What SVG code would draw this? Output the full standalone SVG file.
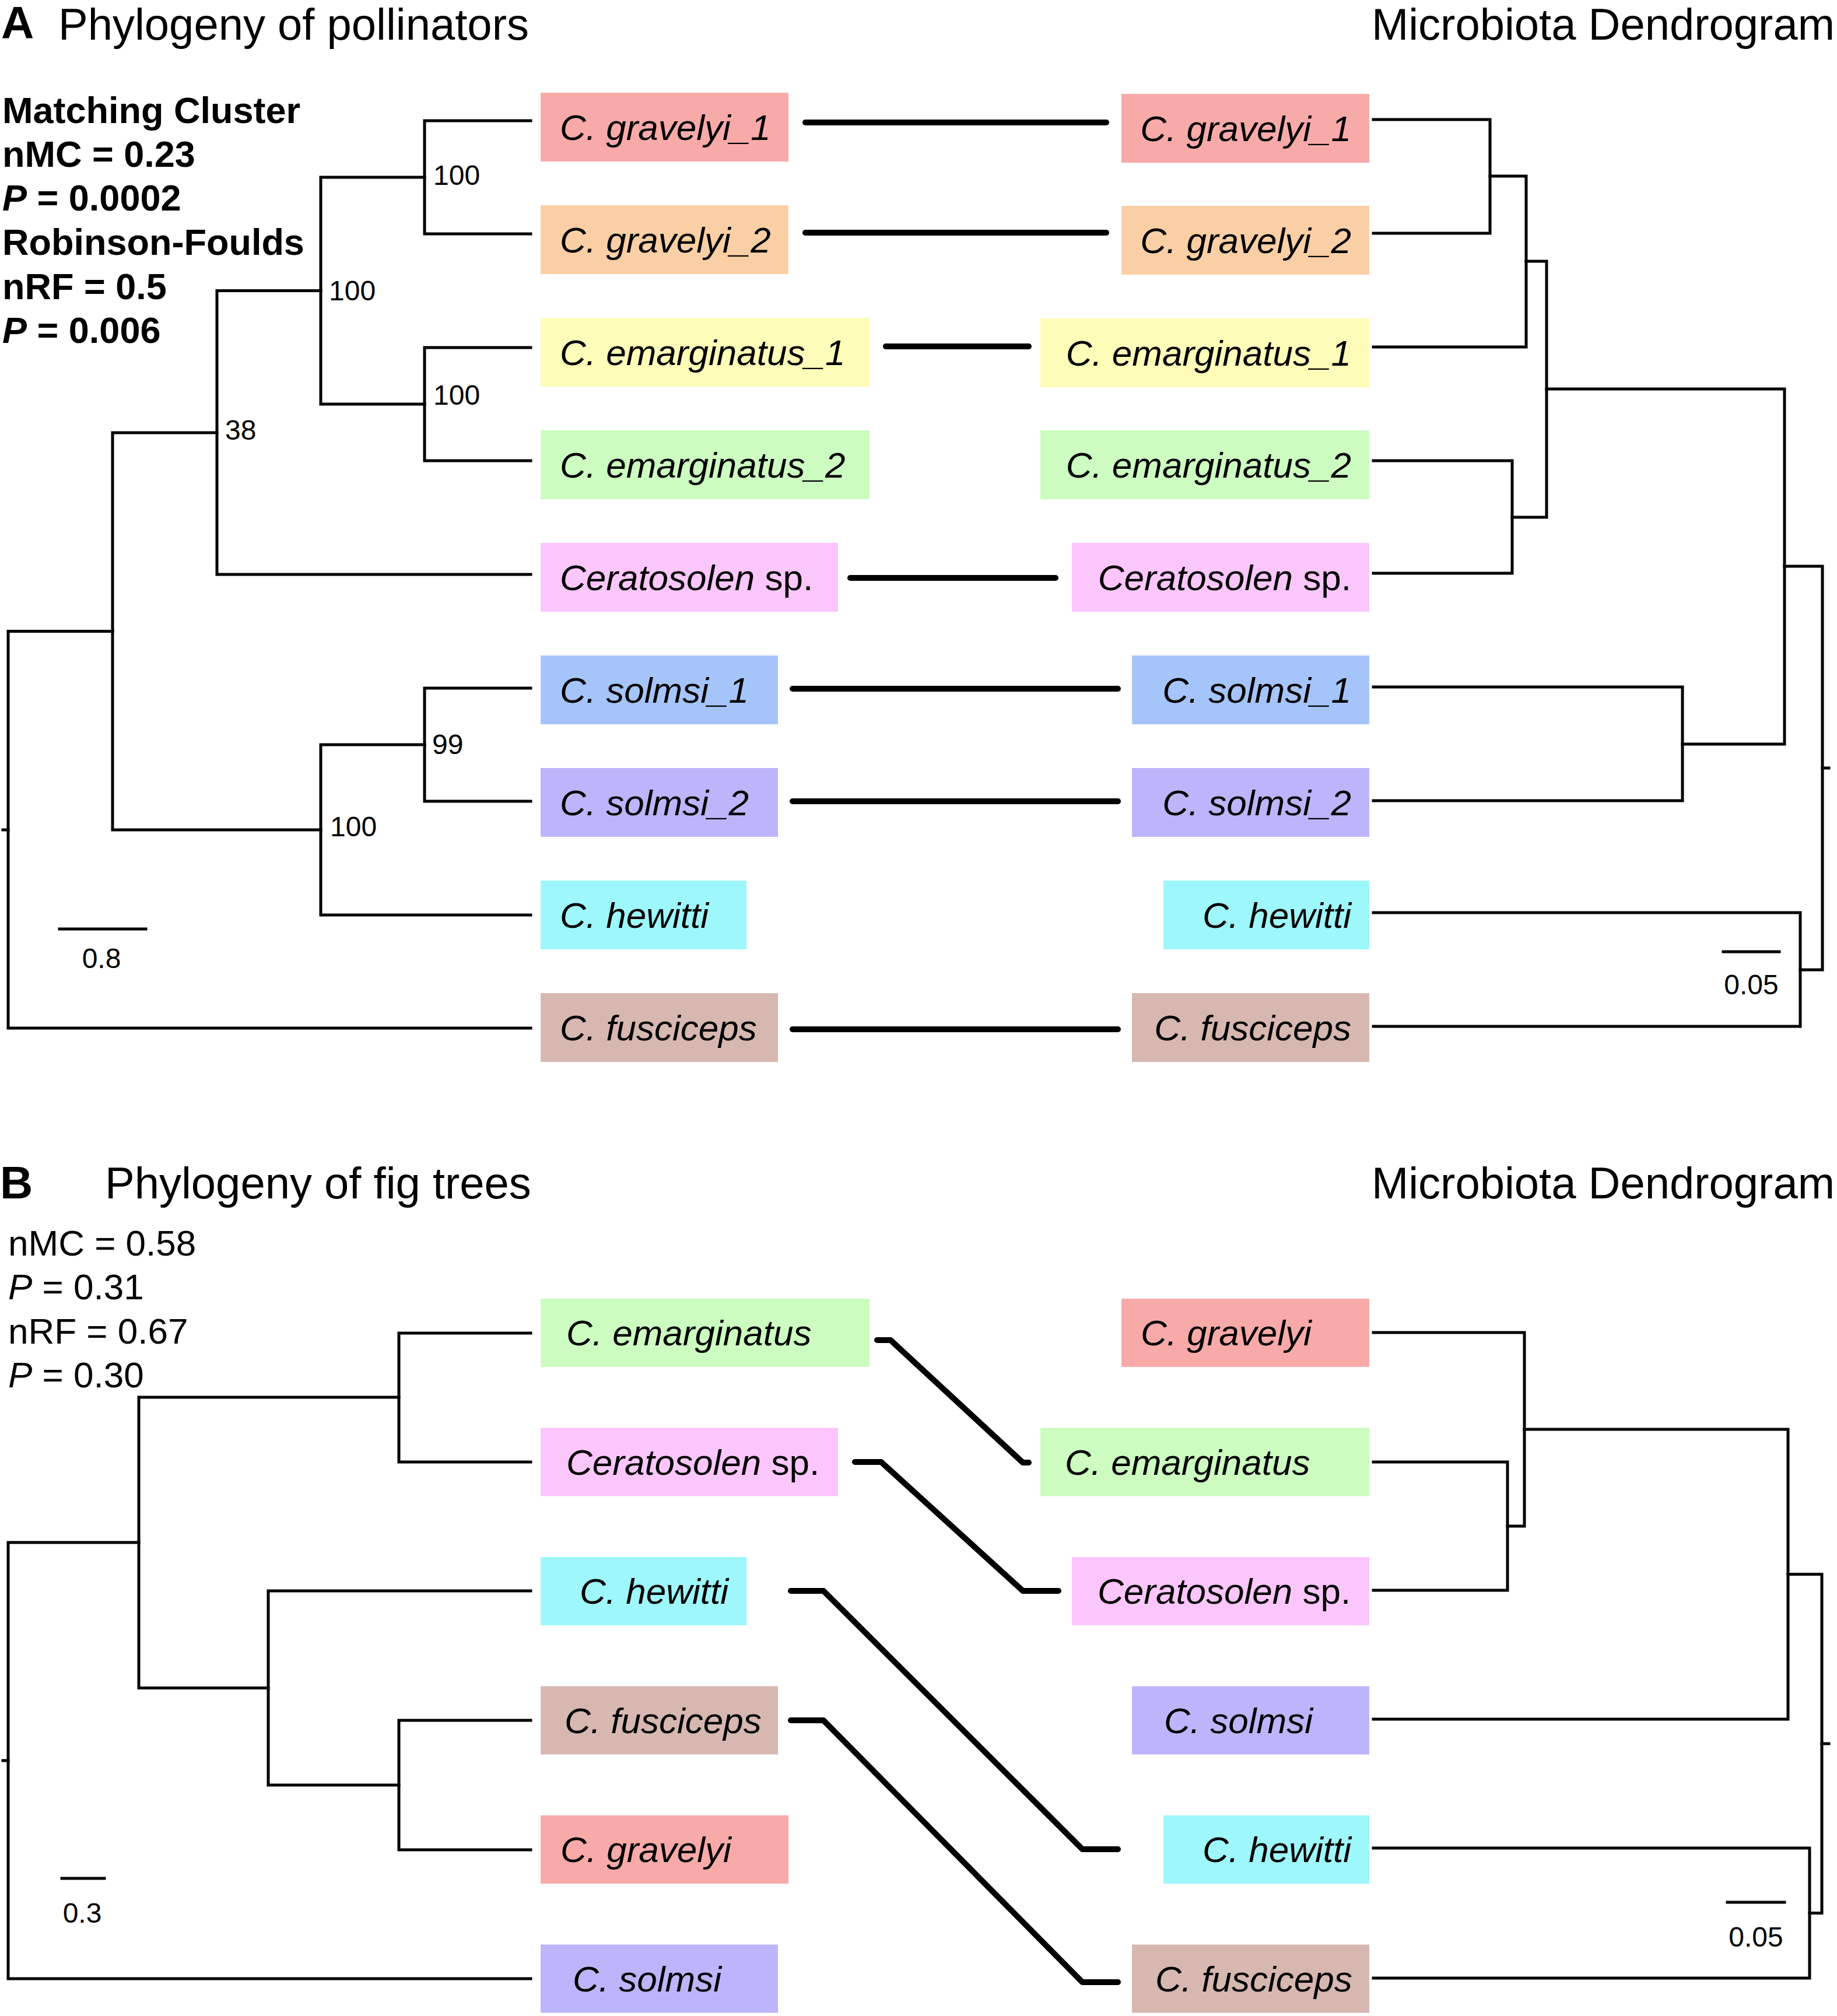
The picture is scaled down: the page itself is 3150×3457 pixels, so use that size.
<svg xmlns="http://www.w3.org/2000/svg" width="3150" height="3457" viewBox="0 0 3150 3457">
<style>
text{font-family:"Liberation Sans",Arial,sans-serif;fill:#000}
.title{font-size:76px}
.panel{font-size:78px;font-weight:bold}
.stat{font-size:62px}
.statb{font-size:63px;font-weight:bold}
.lbl{font-size:62px;font-style:italic}
.num{font-size:48px}
.tree{fill:none;stroke:#000;stroke-width:5;stroke-linecap:square}
.link{fill:none;stroke:#000;stroke-width:10;stroke-linecap:round;stroke-linejoin:round}
.g1{fill:#f8aaa9}.g2{fill:#fbcfa5}.e1{fill:#fdfcb8}.e2{fill:#ccfcc0}.ce{fill:#fbc6fb}
.s1{fill:#a5c5fa}.s2{fill:#bdb5fb}.hw{fill:#9df7fb}.fu{fill:#d7b8b1}
</style>
<rect width="3150" height="3457" fill="#fff"/>

<!-- Panel A headers -->
<g id="panelA-header">
<text class="panel" x="2" y="66">A</text>
<text class="title" x="100" y="68">Phylogeny of pollinators</text>
<text class="title" x="3146" y="68" text-anchor="end">Microbiota Dendrogram</text>
<text class="statb" x="4" y="211">Matching Cluster</text>
<text class="statb" x="4" y="286">nMC = 0.23</text>
<text class="statb" x="4" y="361"><tspan font-style="italic">P</tspan> = 0.0002</text>
<text class="statb" x="4" y="437">Robinson-Foulds</text>
<text class="statb" x="4" y="513">nRF = 0.5</text>
<text class="statb" x="4" y="588"><tspan font-style="italic">P</tspan> = 0.006</text>
</g>

<!-- Panel A left tree -->
<g id="treeA-left" class="tree">
<path d="M910,207H728V401H910"/>
<path d="M910,596H728V790H910"/>
<path d="M728,304H550V693H728"/>
<path d="M550,498.5H372V985H910"/>
<path d="M910,1180H728V1374H910"/>
<path d="M728,1277H550V1569H910"/>
<path d="M372,742H193V1423H550"/>
<path d="M193,1082.5H14V1763H910"/>
<path d="M5,1423H14"/>
<path d="M102,1593H250"/>
</g>
<g id="treeA-left-labels">
<text class="num" x="743" y="317">100</text>
<text class="num" x="564" y="515">100</text>
<text class="num" x="743" y="694">100</text>
<text class="num" x="386" y="754">38</text>
<text class="num" x="741" y="1293">99</text>
<text class="num" x="566" y="1434">100</text>
<text class="num" x="174" y="1660" text-anchor="middle">0.8</text>
</g>

<!-- Panel A right tree -->
<g id="treeA-right" class="tree">
<path d="M2355,205H2555V400H2355"/>
<path d="M2555,302H2617V595H2355"/>
<path d="M2355,790H2593V983H2355"/>
<path d="M2617,448H2652V887H2593"/>
<path d="M2355,1178H2885V1373H2355"/>
<path d="M2652,667H3060V1276H2885"/>
<path d="M2355,1565H3087V1760H2355"/>
<path d="M3060,971H3125V1663H3087"/>
<path d="M3125,1317H3136"/>
<path d="M2955,1632H3051"/>
</g>
<text class="num" x="3003" y="1705" text-anchor="middle">0.05</text>

<!-- Panel A left labels -->
<g id="A-L-gravelyi_1"><rect class="g1" x="927" y="159" width="425" height="118"/><text class="lbl" x="960" y="240">C. gravelyi_1</text></g>
<g id="A-L-gravelyi_2"><rect class="g2" x="927" y="352" width="425" height="118"/><text class="lbl" x="960" y="433">C. gravelyi_2</text></g>
<g id="A-L-emarginatus_1"><rect class="e1" x="927" y="545" width="564" height="118"/><text class="lbl" x="960" y="626">C. emarginatus_1</text></g>
<g id="A-L-emarginatus_2"><rect class="e2" x="927" y="738" width="564" height="118"/><text class="lbl" x="960" y="819">C. emarginatus_2</text></g>
<g id="A-L-ceratosolen"><rect class="ce" x="927" y="931" width="510" height="118"/><text class="lbl" x="960" y="1012">Ceratosolen<tspan font-style="normal"> sp.</tspan></text></g>
<g id="A-L-solmsi_1"><rect class="s1" x="927" y="1124" width="407" height="118"/><text class="lbl" x="960" y="1205">C. solmsi_1</text></g>
<g id="A-L-solmsi_2"><rect class="s2" x="927" y="1317" width="407" height="118"/><text class="lbl" x="960" y="1398">C. solmsi_2</text></g>
<g id="A-L-hewitti"><rect class="hw" x="927" y="1510" width="353" height="118"/><text class="lbl" x="960" y="1591">C. hewitti</text></g>
<g id="A-L-fusciceps"><rect class="fu" x="927" y="1703" width="407" height="118"/><text class="lbl" x="960" y="1784">C. fusciceps</text></g>

<!-- Panel A right labels -->
<g id="A-R-gravelyi_1"><rect class="g1" x="1923" y="161" width="425" height="118"/><text class="lbl" x="2317" y="242" text-anchor="end">C. gravelyi_1</text></g>
<g id="A-R-gravelyi_2"><rect class="g2" x="1923" y="353" width="425" height="118"/><text class="lbl" x="2317" y="434" text-anchor="end">C. gravelyi_2</text></g>
<g id="A-R-emarginatus_1"><rect class="e1" x="1784" y="546" width="564" height="118"/><text class="lbl" x="2317" y="627" text-anchor="end">C. emarginatus_1</text></g>
<g id="A-R-emarginatus_2"><rect class="e2" x="1784" y="738" width="564" height="118"/><text class="lbl" x="2317" y="819" text-anchor="end">C. emarginatus_2</text></g>
<g id="A-R-ceratosolen"><rect class="ce" x="1838" y="931" width="510" height="118"/><text class="lbl" x="2317" y="1012" text-anchor="end">Ceratosolen<tspan font-style="normal"> sp.</tspan></text></g>
<g id="A-R-solmsi_1"><rect class="s1" x="1941" y="1124" width="407" height="118"/><text class="lbl" x="2317" y="1205" text-anchor="end">C. solmsi_1</text></g>
<g id="A-R-solmsi_2"><rect class="s2" x="1941" y="1317" width="407" height="118"/><text class="lbl" x="2317" y="1398" text-anchor="end">C. solmsi_2</text></g>
<g id="A-R-hewitti"><rect class="hw" x="1995" y="1510" width="353" height="118"/><text class="lbl" x="2317" y="1591" text-anchor="end">C. hewitti</text></g>
<g id="A-R-fusciceps"><rect class="fu" x="1941" y="1703" width="407" height="118"/><text class="lbl" x="2317" y="1784" text-anchor="end">C. fusciceps</text></g>

<!-- Panel A connectors -->
<g id="connectorsA" class="link">
<path d="M1381,210H1897"/>
<path d="M1381,399H1897"/>
<path d="M1519,594H1764"/>
<path d="M1458,991H1810"/>
<path d="M1359,1181H1917"/>
<path d="M1359,1374H1917"/>
<path d="M1359,1765H1917"/>
</g>

<!-- Panel B headers -->
<g id="panelB-header">
<text class="panel" x="0" y="2055" font-size="72">B</text>
<text class="title" x="180" y="2055">Phylogeny of fig trees</text>
<text class="title" x="3146" y="2055" text-anchor="end">Microbiota Dendrogram</text>
<text class="stat" x="14" y="2153">nMC = 0.58</text>
<text class="stat" x="14" y="2228"><tspan font-style="italic">P</tspan> = 0.31</text>
<text class="stat" x="14" y="2304">nRF = 0.67</text>
<text class="stat" x="14" y="2379"><tspan font-style="italic">P</tspan> = 0.30</text>
</g>

<!-- Panel B left tree -->
<g id="treeB-left" class="tree">
<path d="M910,2286H684V2507H910"/>
<path d="M910,2950H684V3172H910"/>
<path d="M684,3061H460V2728H910"/>
<path d="M684,2396H238V2894.5H460"/>
<path d="M238,2645H14V3393H910"/>
<path d="M5,3019H14"/>
<path d="M106,3221H179"/>
</g>
<text class="num" x="141" y="3297" text-anchor="middle">0.3</text>

<!-- Panel B right tree -->
<g id="treeB-right" class="tree">
<path d="M2355,2507H2585V2727H2355"/>
<path d="M2355,2285H2614V2617H2585"/>
<path d="M2614,2451H3066V2948H2355"/>
<path d="M2355,3169H3103V3392H2355"/>
<path d="M3066,2699.5H3124V3280.5H3103"/>
<path d="M3124,2990H3136"/>
<path d="M2962,3262H3060"/>
</g>
<text class="num" x="3011" y="3338" text-anchor="middle">0.05</text>

<!-- Panel B left labels -->
<g id="B-L-emarginatus"><rect class="e2" x="927" y="2227" width="564" height="117"/><text class="lbl" x="971" y="2307">C. emarginatus</text></g>
<g id="B-L-ceratosolen"><rect class="ce" x="927" y="2448.5" width="510" height="117"/><text class="lbl" x="971" y="2529">Ceratosolen<tspan font-style="normal"> sp.</tspan></text></g>
<g id="B-L-hewitti"><rect class="hw" x="927" y="2670" width="353" height="117"/><text class="lbl" x="994" y="2750">C. hewitti</text></g>
<g id="B-L-fusciceps"><rect class="fu" x="927" y="2891.5" width="407" height="117"/><text class="lbl" x="968" y="2972">C. fusciceps</text></g>
<g id="B-L-gravelyi"><rect class="g1" x="927" y="3113" width="425" height="117"/><text class="lbl" x="961" y="3193">C. gravelyi</text></g>
<g id="B-L-solmsi"><rect class="s2" x="927" y="3334.5" width="407" height="117"/><text class="lbl" x="982" y="3415">C. solmsi</text></g>

<!-- Panel B right labels -->
<g id="B-R-gravelyi"><rect class="g1" x="1923" y="2227" width="425" height="117"/><text class="lbl" x="1956" y="2307">C. gravelyi</text></g>
<g id="B-R-emarginatus"><rect class="e2" x="1784" y="2448.5" width="564" height="117"/><text class="lbl" x="1826" y="2529">C. emarginatus</text></g>
<g id="B-R-ceratosolen"><rect class="ce" x="1838" y="2670" width="510" height="117"/><text class="lbl" x="1882" y="2750">Ceratosolen<tspan font-style="normal"> sp.</tspan></text></g>
<g id="B-R-solmsi"><rect class="s2" x="1941" y="2891.5" width="407" height="117"/><text class="lbl" x="1996" y="2972">C. solmsi</text></g>
<g id="B-R-hewitti"><rect class="hw" x="1995" y="3113" width="353" height="117"/><text class="lbl" x="2062" y="3193">C. hewitti</text></g>
<g id="B-R-fusciceps"><rect class="fu" x="1941" y="3334.5" width="407" height="117"/><text class="lbl" x="1981" y="3415">C. fusciceps</text></g>

<!-- Panel B connectors -->
<g id="connectorsB" class="link">
<path d="M1504,2298H1527L1754,2508H1764"/>
<path d="M1466,2507H1511L1754,2728H1815"/>
<path d="M1356,2728H1412L1856,3171H1917"/>
<path d="M1356,2950H1412L1856,3399H1917"/>
</g>
</svg>
